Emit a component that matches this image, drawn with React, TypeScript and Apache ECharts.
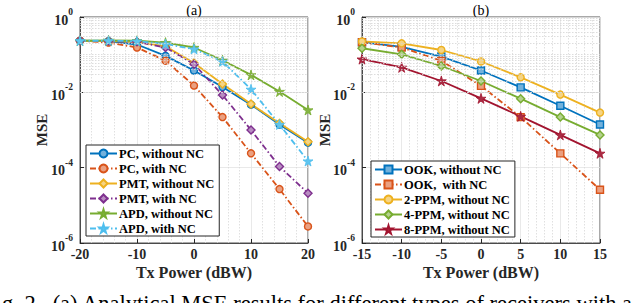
import React, { useEffect, useRef } from "react";
import * as echarts from "echarts";

// ---------- data ----------
const txPowerA = [-20, -15, -10, -5, 0, 5, 10, 15, 20];
const pcWithoutNC = [0.234, 0.229, 0.186, 0.093, 0.038, 0.0138, 0.0047, 0.0014, 0.00046];
const pcWithNC = [0.234, 0.209, 0.155, 0.069, 0.0151, 0.0022, 0.00024, 0.000027, 0.00000275];
const pmtWithoutNC = [0.234, 0.229, 0.219, 0.166, 0.06, 0.0166, 0.0049, 0.0015, 0.00049];
const pmtWithNC = [0.234, 0.229, 0.219, 0.155, 0.056, 0.0085, 0.001, 0.000107, 0.000021];
const apdWithoutNC = [0.234, 0.24, 0.234, 0.209, 0.155, 0.071, 0.029, 0.0105, 0.0034];
const apdWithNC = [0.234, 0.234, 0.229, 0.191, 0.141, 0.066, 0.012, 0.0014, 0.00015];

const txPowerB = [-15, -10, -5, 0, 5, 10, 15];
const ookWithoutNC = [0.214, 0.162, 0.089, 0.038, 0.0135, 0.0044, 0.0014];
const ookWithNC = [0.214, 0.155, 0.069, 0.0148, 0.0022, 0.00024, 0.000026];
const ppm2WithoutNC = [0.224, 0.2, 0.133, 0.066, 0.025, 0.0087, 0.0029];
const ppm4WithoutNC = [0.148, 0.102, 0.05, 0.02, 0.0068, 0.0022, 0.00074];
const ppm8WithoutNC = [0.076, 0.046, 0.02, 0.0069, 0.0023, 0.00074, 0.00024];

const namesA = ["PC, without NC", "PC, with NC", "PMT, without NC", "PMT, with NC", "APD, without NC", "APD, with NC"];
const namesB = ["OOK, without NC", "OOK,  with NC", "2-PPM, without NC", "4-PPM, without NC", "8-PPM, without NC"];
const xTicksA = [-20, -10, 0, 10, 20];
const xTicksB = [-15, -10, -5, 0, 5, 10, 15];

// ---------- style ----------
const FONT = "'Liberation Serif', 'Times New Roman', serif";
const C = {
  blue: "#0072BD",
  orange: "#D95319",
  yellow: "#EDB120",
  purple: "#7E2F8E",
  green: "#77AC30",
  cyan: "#4DBEEE",
  red: "#A2142F",
};
const STAR = "path://M50,0 L61,35 L98,35 L68,57 L79,91 L50,70 L21,91 L32,57 L2,35 L39,35 Z";
const DASHDOT = [6, 2.5, 1.5, 2.5];

function lighten(hex: string, f: number) {
  const n = parseInt(hex.slice(1), 16);
  const r = (n >> 16) & 255, g = (n >> 8) & 255, b = n & 255;
  const m = (c: number) => Math.round(c + (255 - c) * f);
  return `rgb(${m(r)},${m(g)},${m(b)})`;
}

function mkSeries(name: string, xs: number[], ys: number[], color: string, symbol: string, dashed: boolean, idx: number) {
  const isStar = symbol === STAR;
  return {
    name,
    type: "line",
    xAxisIndex: idx,
    yAxisIndex: idx,
    data: xs.map((x, i) => [x, ys[i]]),
    symbol,
    symbolSize: isStar ? 10 : symbol === "diamond" ? 8 : 7,
    z: 3,
    lineStyle: { color, width: 1.8, type: dashed ? DASHDOT : "solid" },
    itemStyle: { color: lighten(color, isStar ? 0.1 : 0.45), borderColor: color, borderWidth: isStar ? 0.8 : 1.4 },
    emphasis: { disabled: true },
  };
}

function minorGridSeries(idx: number) {
  const lines: any[] = [];
  for (let e = -6; e <= -1; e++) {
    for (let k = 1; k <= 9; k++) {
      if (k === 1 && e % 2 === 0) continue;
      lines.push({ yAxis: k * Math.pow(10, e) });
    }
  }
  return {
    type: "line",
    xAxisIndex: idx,
    yAxisIndex: idx,
    data: [],
    z: 1,
    silent: true,
    markLine: {
      silent: true,
      symbol: ["none", "none"],
      label: { show: false },
      lineStyle: { color: "#d4d4d4", width: 0.8, type: [1.5, 1.5] },
      emphasis: { disabled: true },
      data: lines,
      animation: false,
    },
  };
}

function yAxisFor(idx: number) {
  return {
    type: "log",
    gridIndex: idx,
    logBase: 10,
    min: 1e-6,
    max: 1,
    interval: 2,
    axisLine: { show: true, onZero: false, lineStyle: { color: "#262626", width: 0.8 } },
    axisTick: { show: true, inside: true, length: 4, lineStyle: { color: "#262626" } },
    splitLine: { show: true, lineStyle: { color: "#e3e3e3", width: 0.8 } },
    axisLabel: {
      margin: 7,
      formatter: (v: number) => `{b|10}{s|${Math.round(Math.log10(v))}}`,
      rich: {
        b: { fontFamily: FONT, fontWeight: "bold", fontSize: 14, color: "#262626", lineHeight: 20, verticalAlign: "bottom" },
        s: { fontFamily: FONT, fontWeight: "bold", fontSize: 9.5, color: "#262626", lineHeight: 9, verticalAlign: "top" },
      },
    },
  };
}

function xAxisFor(idx: number, min: number, max: number, interval: number) {
  return {
    type: "value",
    gridIndex: idx,
    min,
    max,
    interval,
    axisLine: { show: true, onZero: false, lineStyle: { color: "#262626", width: 0.8 } },
    axisTick: { show: true, inside: true, length: 4, lineStyle: { color: "#262626" } },
    splitLine: { show: true, lineStyle: { color: "#e3e3e3", width: 0.8 } },
    minorTick: { show: false, splitNumber: 5 },
    minorSplitLine: { show: true, lineStyle: { color: "#d8d8d8", width: 0.8, type: [1.5, 1.5] } },
    axisLabel: {
      margin: 4,
      fontFamily: FONT,
      fontWeight: "bold",
      fontSize: 14,
      lineHeight: 15,
      color: "#262626",
      customValues: idx === 0 ? xTicksA : xTicksB,
    },
  };
}

const legendBase = {
  orient: "vertical",
  backgroundColor: "#fff",
  borderColor: "#262626",
  borderWidth: 1,
  borderRadius: 0,
  padding: [2, 5, 1, 3],
  itemGap: 2,
  itemWidth: 27,
  itemHeight: 10,
  textStyle: { fontFamily: FONT, fontWeight: "bold", fontSize: 12.5, lineHeight: 12.5, color: "#000", padding: [0, 0, 0, -3] },
  selectedMode: false,
};

export default function App() {
  const ref = useRef<HTMLDivElement>(null);
  useEffect(() => {
    if (!ref.current) return;
    const chart = echarts.init(ref.current, null, { renderer: "svg" });
    const option: any = {
      animation: false,
      backgroundColor: "#fff",
      grid: [
        { left: 80, top: 17, width: 228, height: 226, show: true, borderColor: "#262626", borderWidth: 0.8, backgroundColor: "#fff" },
        { left: 362, top: 17, width: 238, height: 226, show: true, borderColor: "#262626", borderWidth: 0.8, backgroundColor: "#fff" },
      ],
      xAxis: [xAxisFor(0, -20, 20, 10), xAxisFor(1, -15, 15, 5)],
      yAxis: [yAxisFor(0), yAxisFor(1)],
      legend: [
        { ...legendBase, left: 86, top: 145, data: namesA },
        { ...legendBase, left: 371, top: 161, data: namesB },
      ],
      series: [
        minorGridSeries(0),
        minorGridSeries(1),
        mkSeries(namesA[0], txPowerA, pcWithoutNC, C.blue, "circle", false, 0),
        mkSeries(namesA[1], txPowerA, pcWithNC, C.orange, "circle", true, 0),
        mkSeries(namesA[2], txPowerA, pmtWithoutNC, C.yellow, "diamond", false, 0),
        mkSeries(namesA[3], txPowerA, pmtWithNC, C.purple, "diamond", true, 0),
        mkSeries(namesA[4], txPowerA, apdWithoutNC, C.green, STAR, false, 0),
        mkSeries(namesA[5], txPowerA, apdWithNC, C.cyan, STAR, true, 0),
        mkSeries(namesB[0], txPowerB, ookWithoutNC, C.blue, "rect", false, 1),
        mkSeries(namesB[1], txPowerB, ookWithNC, C.orange, "rect", true, 1),
        mkSeries(namesB[2], txPowerB, ppm2WithoutNC, C.yellow, "circle", false, 1),
        mkSeries(namesB[3], txPowerB, ppm4WithoutNC, C.green, "diamond", false, 1),
        mkSeries(namesB[4], txPowerB, ppm8WithoutNC, C.red, STAR, false, 1),
      ],
      graphic: [
        { type: "text", x: 194, y: 10, style: { text: "(a)", font: `14px ${FONT}`, fill: "#000", textAlign: "center", textVerticalAlign: "middle" } },
        { type: "text", x: 481, y: 10, style: { text: "(b)", font: `14px ${FONT}`, fill: "#000", textAlign: "center", textVerticalAlign: "middle" } },
        { type: "text", x: 42, y: 130, rotation: Math.PI / 2, style: { text: "MSE", font: `bold 15px ${FONT}`, fill: "#262626", textAlign: "center", textVerticalAlign: "middle" } },
        { type: "text", x: 325, y: 130, rotation: Math.PI / 2, style: { text: "MSE", font: `bold 15px ${FONT}`, fill: "#262626", textAlign: "center", textVerticalAlign: "middle" } },
        { type: "text", x: 194, y: 272, style: { text: "Tx Power (dBW)", font: `bold 16px ${FONT}`, fill: "#262626", textAlign: "center", textVerticalAlign: "middle" } },
        { type: "text", x: 481, y: 272, style: { text: "Tx Power (dBW)", font: `bold 16px ${FONT}`, fill: "#262626", textAlign: "center", textVerticalAlign: "middle" } },
        { type: "text", x: 2, y: 292, style: { text: "g. 2.  (a) Analytical MSE results for different types of receivers with a", font: `22.5px ${FONT}`, fill: "#000", textAlign: "left", textVerticalAlign: "top" } },
      ],
    };
    chart.setOption(option);
    return () => chart.dispose();
  }, []);
  return <div ref={ref} style={{ position: "absolute", left: 0, top: 0, width: 640, height: 303 }} />;
}
